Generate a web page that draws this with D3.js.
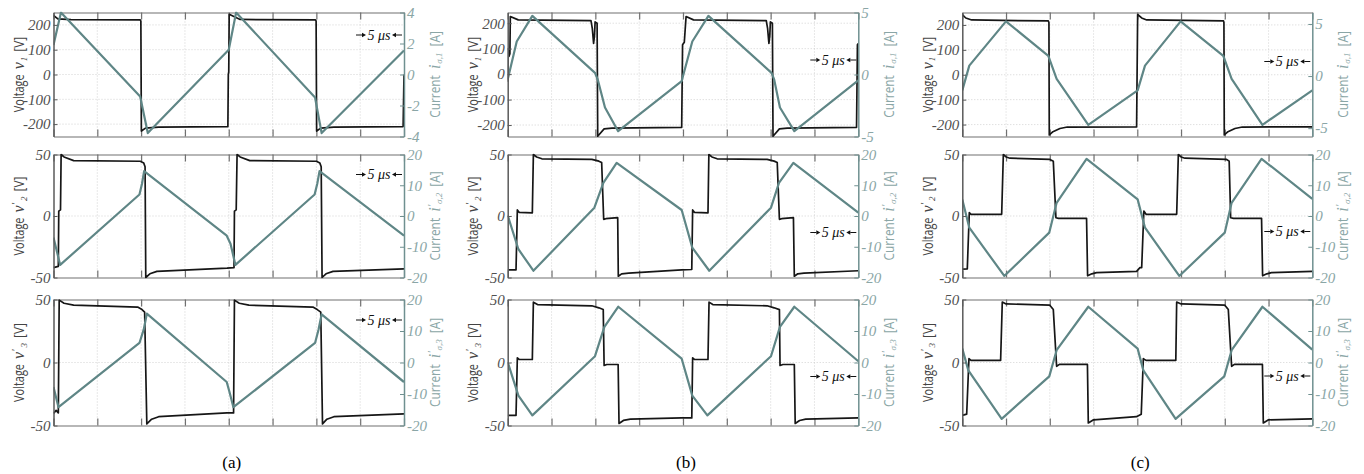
<!DOCTYPE html>
<html><head><meta charset="utf-8">
<script src="https://cdn.jsdelivr.net/npm/d3@7"></script>
<style>body{margin:0;background:#fff}</style>
</head><body><svg id="c" width="1364" height="474"></svg>
<script>
// ---------- data (time in µs, voltage in V, current in A) ----------
const timeTicks = [0,5,10,15,20,25,30,35,40];
const vTicksHigh = [-200,-100,0,100,200];
const vTicksLow = [-50,0,50];
const iTicksA1 = [-4,-2,0,2,4];
const iTicksBC1 = [-5,0,5];
const iTicksLow = [-20,-10,0,10,20];
const captions = ['(a)','(b)','(c)'];

// (a)
const aV1 = [[0,238],[0.5,224],[2,221],[9.9,220],[9.97,215],[10.03,-228],[10.5,-216],[12,-212],[19.9,-210],[19.95,0],[20.0,10],[20.05,243],[21.3,222],[29.9,220],[29.97,215],[30.03,-228],[30.5,-216],[32,-212],[39.9,-210],[40,0]];
const aI1 = [[0,1.9],[0.85,4.0],[9.89,-1.42],[10.76,-3.78],[20.0,1.59],[20.84,4.0],[29.85,-1.48],[30.6,-3.78],[40,1.55]];
const aV2 = [[0,-42],[0.55,-41],[0.6,4],[0.8,5],[0.87,50],[1.2,48],[2.3,45],[9.9,44.5],[10.3,43],[10.45,40],[10.53,-50],[11,-47],[11.8,-45],[19.8,-42.4],[20.6,-42],[20.65,4],[20.85,5],[20.95,50],[21.3,48],[22.4,45],[30.0,44.5],[30.4,43],[30.55,40],[30.65,-50],[31.1,-47],[31.9,-45],[40,-43]];
const aI2 = [[0,-7],[0.76,-15.9],[9.81,7],[10.1,10.5],[10.34,14.6],[19.77,-6.4],[20.2,-9],[20.76,-15.9],[29.8,7],[30.1,10.5],[30.36,14.6],[40,-6.4]];
const aV3 = [[0,-40.5],[0.3,-38],[0.55,-40],[0.65,49.5],[1.2,47],[2.3,45.5],[9.6,44],[10.1,42],[10.4,40],[10.65,-48.7],[11.2,-45],[12,-43],[19.8,-40],[20.55,-40],[20.65,49.5],[21.2,47],[22.3,45.5],[29.6,44],[30.1,42],[30.5,40],[30.7,-48.7],[31.2,-45],[32,-43],[40,-40.7]];
const aI3 = [[0,-7.8],[0.57,-14.2],[9.81,6.2],[10.3,10.5],[10.65,15.5],[19.77,-6.2],[20.1,-9.5],[20.53,-14.2],[29.85,6.2],[30.25,10.5],[30.6,15.3],[40,-6.2]];
// (b)
const bV1 = [[0,-30],[0.05,100],[0.15,70],[0.25,80],[0.3,226],[1.2,213],[9.5,210],[9.65,180],[9.8,121],[9.9,150],[9.97,205],[10.2,200],[10.27,-244],[11,-215],[11.9,-212],[19.85,-209],[19.95,115],[20.15,125],[20.35,226],[21.2,213],[29.5,210],[29.65,180],[29.8,121],[29.9,150],[29.97,205],[30.2,200],[30.27,-244],[31,-215],[31.9,-212],[39.8,-209],[39.9,115],[40,120]];
const bI1 = [[0,-0.4],[1.03,2.66],[2.81,4.73],[9.96,0.13],[10.27,-0.4],[11.1,-2.66],[12.6,-4.57],[19.85,-0.53],[21.06,2.66],[22.9,4.73],[30.1,0.13],[30.4,-0.4],[31.06,-2.66],[32.7,-4.57],[40,-0.48]];
const bV2 = [[0,-43.8],[0.95,-43.8],[1.1,4.9],[1.3,3],[2.81,2.5],[2.93,50],[3.3,48],[3.9,46.5],[9.6,46],[10.4,44.6],[10.72,43.5],[10.95,-2.7],[11.2,-2.2],[12.55,-1.4],[12.62,-49],[13,-47],[13.8,-46.5],[19.85,-43.8],[21.0,-43.5],[21.1,4.9],[21.3,3],[22.85,2.5],[22.95,50],[23.3,48],[23.9,46.5],[29.6,46],[30.4,44.6],[30.75,43.5],[31.0,-2.7],[31.25,-2.2],[32.6,-1.4],[32.7,-49],[33.1,-47],[33.8,-46.5],[40,-44.5]];
const bI2 = [[0,0.2],[1.22,-10.8],[2.93,-17.8],[9.89,2.7],[10.91,10.8],[12.43,17.3],[19.85,1.95],[21.06,-10.3],[23.0,-17.8],[30.04,2.7],[30.95,10.8],[32.59,17.3],[40,1.1]];
const bV3 = [[0,-42],[0.95,-42],[1.1,3.7],[1.3,2.4],[2.81,2.4],[2.93,47.9],[3.4,46],[9.6,45],[10.4,43.4],[10.9,42],[11.0,-2.4],[11.3,-1.6],[12.6,-1.6],[12.7,-48.4],[13.2,-46],[14,-45],[19.85,-44],[21.0,-44],[21.1,3.7],[21.3,2.4],[22.85,2.4],[22.97,47.9],[23.4,46],[29.6,45],[30.4,43.4],[31.0,42],[31.07,-2.4],[31.4,-1.6],[32.7,-1.6],[32.8,-48.4],[33.3,-46],[34,-45],[40,-44]];
const bI3 = [[0,0.1],[1.22,-10.5],[2.81,-16.8],[9.96,2.0],[11.03,11.3],[12.62,17.7],[19.85,1.2],[21.06,-10.5],[22.78,-16.8],[30.04,2.0],[31.06,11.3],[32.7,17.7],[40,0.4]];
// (c)
const cV1 = [[0,242],[0.4,228],[1.07,220],[9.83,216],[9.9,210],[9.94,-242],[10.3,-230],[11.16,-216],[12,-210],[19.92,-209],[20.04,242],[20.5,228],[21.07,220],[29.85,216],[29.9,210],[29.94,-242],[30.3,-230],[31.16,-216],[32,-210],[40,-209]];
const cI1 = [[0,-1.37],[0.8,1.0],[4.99,5.25],[9.83,1.94],[10.78,-0.27],[14.4,-4.68],[20.04,-1.37],[20.88,1.0],[24.95,5.25],[29.83,1.94],[30.78,-0.27],[34.3,-4.68],[40,-1.37]];
const cV2 = [[0,-43.2],[0.57,-43],[0.8,2.7],[1.0,1.4],[4.5,1.4],[4.69,50],[5.0,48],[5.45,47],[10.02,46],[10.4,44.6],[10.7,-1.4],[11,-1.9],[14.2,-1.9],[14.32,-48.6],[14.8,-47],[15.35,-46],[19.92,-45],[20.3,-42],[20.5,-42],[20.75,4],[21,1.4],[24.5,1.4],[24.69,50],[25.0,48],[25.45,47],[30.2,46],[30.5,44.6],[30.67,-1.4],[31,-1.9],[34.2,-1.9],[34.32,-48.6],[34.8,-47],[35.35,-46],[40,-45]];
const cI2 = [[0,5.4],[0.8,-3.8],[4.8,-19.5],[9.94,-5.4],[10.78,4.3],[14.2,18.6],[20.04,5.4],[20.88,-3.8],[24.8,-19.5],[30.0,-5.4],[30.78,4.3],[34.2,18.6],[40,5.6]];
const cV3 = [[0,-42],[0.5,-41],[0.76,3],[1,1.7],[4.38,1.7],[4.57,48],[5,46.5],[10.0,45.5],[10.4,42],[10.78,-3],[11.1,-1.5],[14.3,-1.5],[14.4,-48],[15,-45.5],[19.9,-43],[20.45,-41],[20.69,3],[21,1.7],[24.4,1.7],[24.5,48],[25,46.5],[30.0,45.5],[30.4,42],[30.78,-3],[31.1,-1.5],[34.3,-1.5],[34.4,-48],[35,-45.5],[40,-44.7]];
const cI3 = [[0,4.4],[0.69,-2.5],[4.5,-17.9],[9.94,-4.4],[10.78,3.9],[14.4,17.7],[20.04,4.4],[20.69,-2.5],[24.38,-17.9],[29.94,-4.4],[30.78,3.9],[34.3,17.7],[40,4.1]];

// ---------- layout ----------
const cols = [{x0:53.5,x1:404},{x0:507.7,x1:858.3},{x0:962.3,x1:1312.3}];
const rows = [{y0:12.5,y1:136.5},{y0:154.5,y1:277.5},{y0:299.5,y1:425.5}];
const C_V = '#161616', C_I = '#5f8686', C_ILAB = '#8aa6a6', C_AX = '#5a5a5a';

const panels = [
 {c:0,r:0,v:aV1,i:aI1,vd:[-250,250],id:[-4,4],vt:vTicksHigh,it:iTicksA1,n:'1',pr:false,note:22.5},
 {c:0,r:1,v:aV2,i:aI2,vd:[-50,50],id:[-20,20],vt:vTicksLow,it:iTicksLow,n:'2',pr:true,note:20},
 {c:0,r:2,v:aV3,i:aI3,vd:[-50,50],id:[-20,20],vt:vTicksLow,it:iTicksLow,n:'3',pr:true,note:20.5},
 {c:1,r:0,v:bV1,i:bI1,vd:[-245,242],id:[-5,5],vt:vTicksHigh,it:iTicksBC1,n:'1',pr:false,note:47.5},
 {c:1,r:1,v:bV2,i:bI2,vd:[-50,50],id:[-20,20],vt:vTicksLow,it:iTicksLow,n:'2',pr:true,note:78},
 {c:1,r:2,v:bV3,i:bI3,vd:[-50,50],id:[-20,20],vt:vTicksLow,it:iTicksLow,n:'3',pr:true,note:77},
 {c:2,r:0,v:cV1,i:cI1,vd:[-248,250],id:[-5.8,6.1],vt:vTicksHigh,it:iTicksBC1,n:'1',pr:false,note:49},
 {c:2,r:1,v:cV2,i:cI2,vd:[-50,50],id:[-20,20],vt:vTicksLow,it:iTicksLow,n:'2',pr:true,note:77},
 {c:2,r:2,v:cV3,i:cI3,vd:[-50,50],id:[-20,20],vt:vTicksLow,it:iTicksLow,n:'3',pr:true,note:76.5},
];

const svg = d3.select('#c');
const SERIF = "'Liberation Serif','DejaVu Serif',serif";
const SANS = "'Open Sans','Liberation Sans',sans-serif";

function rotLabel(g, cx, cy, pieces){
  const grp = g.append('g').attr('transform',`translate(${cx},${cy}) rotate(-90)`);
  let x = 0; const items=[];
  pieces.forEach(p=>{
    if(p.gap){ x += p.gap; return; }
    const t = grp.append('text').text(p.t)
      .attr('font-family',p.ff).attr('font-size',p.fs)
      .attr('font-style',p.it?'italic':'normal').attr('fill',p.col)
      .attr('dominant-baseline','middle');
    const w = t.node().getComputedTextLength()*(p.sx||1);
    items.push({t,x,p}); x += w + (p.after||0);
  });
  const off = -x/2;
  items.forEach(({t,x:px,p})=>{
    t.attr('transform',`translate(${px+off},${(p.dy||0)+4}) scale(${p.sx||1},1)`);
  });
}

panels.forEach(P=>{
  const {x0,x1} = cols[P.c], {y0,y1} = rows[P.r];
  const x = d3.scaleLinear().domain([0,40]).range([x0,x1]);
  const yv = d3.scaleLinear().domain(P.vd).range([y1,y0]);
  const yi = d3.scaleLinear().domain(P.id).range([y1,y0]);
  const g = svg.append('g');
  const cid = `clip${P.c}${P.r}`;
  g.append('clipPath').attr('id',cid).append('rect').attr('x',x0).attr('y',y0-1).attr('width',x1-x0).attr('height',y1-y0+2);

  // grid
  g.append('g').selectAll('line').data(timeTicks.slice(1,-1)).join('line')
    .attr('x1',d=>x(d)).attr('x2',d=>x(d)).attr('y1',y0).attr('y2',y1)
    .attr('stroke','#c8c8c8').attr('stroke-width',0.8).attr('stroke-dasharray','1,2');
  g.append('g').selectAll('line').data(P.vt.filter(d=>yv(d)>y0+1&&yv(d)<y1-1)).join('line')
    .attr('x1',x0).attr('x2',x1).attr('y1',d=>yv(d)).attr('y2',d=>yv(d))
    .attr('stroke','#c8c8c8').attr('stroke-width',0.8).attr('stroke-dasharray','1,2');

  // x ticks (inward, top and bottom)
  const xb = g.append('g').attr('transform',`translate(0,${y1})`)
    .call(d3.axisBottom(x).tickValues(timeTicks).tickSize(-7).tickSizeOuter(0).tickFormat(''));
  const xt = g.append('g').attr('transform',`translate(0,${y0})`)
    .call(d3.axisTop(x).tickValues(timeTicks).tickSize(-7).tickSizeOuter(0).tickFormat(''));
  [xb,xt].forEach(a=>{a.selectAll('line').attr('stroke','#707070').attr('stroke-width',1.2);
    a.select('.domain').attr('stroke','#707070').attr('stroke-width',1.2);});

  // lines
  const lv = d3.line().x(d=>x(d[0])).y(d=>yv(d[1]));
  const li = d3.line().x(d=>x(d[0])).y(d=>yi(d[1]));
  g.append('path').datum(P.v).attr('d',lv).attr('fill','none').attr('stroke',C_V)
    .attr('stroke-width',1.7).attr('stroke-linejoin','round').attr('clip-path',`url(#${cid})`);
  g.append('path').datum(P.i).attr('d',li).attr('fill','none').attr('stroke',C_I)
    .attr('stroke-width',2.2).attr('stroke-linejoin','round').attr('clip-path',`url(#${cid})`);

  // left axis
  const la = g.append('g').attr('transform',`translate(${x0},0)`)
    .call(d3.axisLeft(yv).tickValues(P.vt).tickSize(-4).tickSizeOuter(0).tickPadding(3).tickFormat(d=>String(d)));
  la.attr('font-family',SERIF).attr('font-size',15);
  la.select('.domain').attr('stroke',C_AX).attr('stroke-width',1.5);
  la.selectAll('line').attr('stroke',C_AX);
  la.selectAll('text').attr('font-style','italic').attr('fill','#505050');
  // right axis
  const ra = g.append('g').attr('transform',`translate(${x1},0)`)
    .call(d3.axisRight(yi).tickValues(P.it).tickSize(-4).tickSizeOuter(0).tickPadding(3).tickFormat(d=>String(d)));
  ra.attr('font-family',SERIF).attr('font-size',15);
  ra.select('.domain').attr('stroke','#6f9090').attr('stroke-width',1.5);
  ra.selectAll('line').attr('stroke','#6f9090');
  ra.selectAll('text').attr('font-style','italic').attr('fill',C_ILAB);

  // axis titles
  const cy = (y0+y1)/2;
  const vPieces = [
    {t:'Voltage',ff:SANS,fs:14,col:'#444',sx:0.78},{gap:5},
    {t:'v',ff:SERIF,fs:16,it:true,col:'#444',after:1}];
  if(P.pr) vPieces.push({t:'\u2032',ff:SERIF,fs:11,col:'#444',dy:-4,after:1});
  vPieces.push({t:P.n,ff:SERIF,fs:9,it:true,col:'#444',dy:4},{gap:5},
    {t:'[V]',ff:SANS,fs:14,col:'#444',sx:0.85});
  rotLabel(g, x0-37, cy, vPieces);
  const iPieces = [
    {t:'Current',ff:SANS,fs:14,col:C_ILAB,sx:0.85},{gap:6},
    {t:'i',ff:SERIF,fs:16,it:true,col:C_ILAB,after:1}];
  if(P.pr) iPieces.push({t:'\u2032',ff:SERIF,fs:11,col:C_ILAB,dy:-4,after:0});
  iPieces.push({t:'\u03c3,'+P.n,ff:SERIF,fs:9,it:true,col:C_ILAB,dy:4},{gap:6},
    {t:'[A]',ff:SANS,fs:14,col:C_ILAB,sx:0.85});
  rotLabel(g, x1+28, cy, iPieces);

  // 5 µs annotation
  const ny = y0 + P.note;
  const ng = g.append('g');
  ng.append('text').attr('x',x1-25).attr('y',ny).attr('text-anchor','middle')
    .attr('dominant-baseline','central').attr('font-family',SERIF).attr('font-style','italic')
    .attr('font-size',14).attr('fill','#111').text('5 \u03bcs');
  [[x1-48,x1-42,1],[x1-2,x1-8,-1]].forEach(([a,b,s])=>{
    ng.append('line').attr('x1',a).attr('x2',b).attr('y1',ny).attr('y2',ny).attr('stroke','#111').attr('stroke-width',1);
    ng.append('path').attr('d',`M${b},${ny-2.2}L${b+4*s},${ny}L${b},${ny+2.2}Z`).attr('fill','#111');
  });
});

// captions
cols.forEach((c,k)=>{
  svg.append('text').attr('x',(c.x0+c.x1)/2+3).attr('y',468).attr('text-anchor','middle')
    .attr('font-family',SERIF).attr('font-size',17).attr('fill','#000').text(captions[k]);
});
</script></body></html>
